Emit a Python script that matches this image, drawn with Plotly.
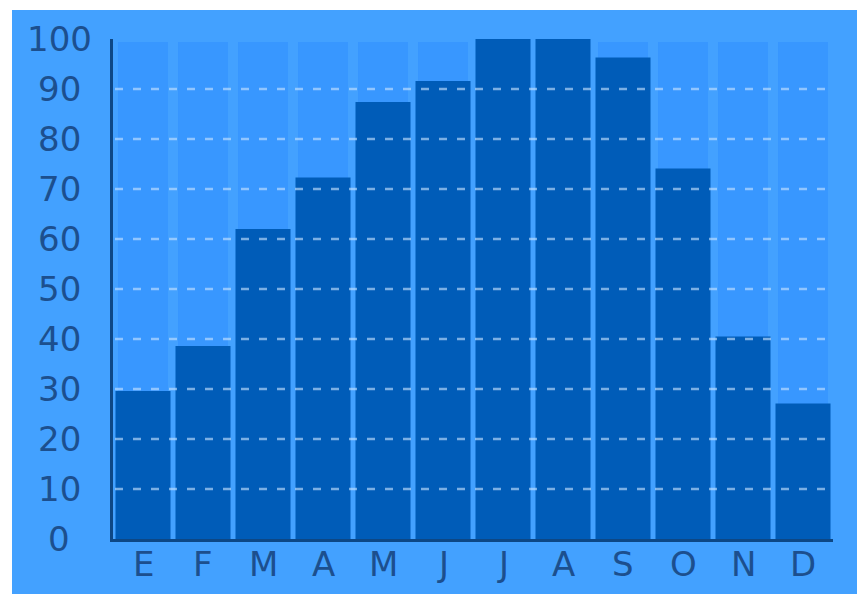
import plotly.graph_objects as go

months = ["E", "F", "M", "A", "M", "J", "J", "A", "S", "O", "N", "D"]
values = [29.6, 38.6, 62, 72.3, 87.4, 91.6, 100, 100, 96.3, 74.1, 40.5, 27.1]
y_ticks = [0, 10, 20, 30, 40, 50, 60, 70, 80, 90, 100]
stripe_top = 99.4

PAPER_BLUE = "#43A1FF"
STRIPE = "#3897FF"
BAR = "#005CB8"
AXIS = "#0D4785"
TEXT = "#1C4F8E"
FONT = "DejaVu Sans, Verdana, sans-serif"

W, H = 857, 594
L, R, T, B = 113, 24, 39, 55
pw = W - L - R
ph = H - T - B

xs = list(range(len(months)))

fig = go.Figure()
fig.add_trace(go.Bar(x=xs, y=[stripe_top] * len(xs), width=0.833,
                     marker=dict(color=STRIPE, line=dict(width=0)),
                     hoverinfo="skip", showlegend=False))
fig.add_trace(go.Bar(x=xs, y=values, width=0.917,
                     marker=dict(color=BAR, line=dict(width=0)),
                     showlegend=False))

shapes = [dict(type="rect", xref="paper", yref="paper",
               x0=(12 - L) / pw, x1=1.3,
               y0=-0.4, y1=(H - B - 10) / ph,
               fillcolor=PAPER_BLUE, line=dict(width=0), layer="below")]
for v in y_ticks[1:-1]:
    shapes.append(dict(type="line", xref="paper", yref="y",
                       x0=2 / pw, x1=(828 - L) / pw, y0=v, y1=v,
                       line=dict(color="rgba(200,228,255,0.62)", width=2.5,
                                 dash="8px,10px"),
                       layer="above"))

annotations = []
for v in y_ticks:
    annotations.append(dict(xref="paper", yref="y", x=(59 - L) / pw, y=v,
                            text=str(v), showarrow=False, xanchor="center",
                            yanchor="middle",
                            font=dict(family=FONT, size=34, color=TEXT)))
for i, m in zip(xs, months):
    annotations.append(dict(xref="x", yref="paper", x=i, y=-(564 - (H - B)) / ph,
                            text=m, showarrow=False, xanchor="center",
                            yanchor="middle",
                            font=dict(family=FONT, size=34, color=TEXT)))

fig.update_layout(
    width=W, height=H,
    margin=dict(l=L, r=R, t=T, b=B, pad=0, autoexpand=False),
    paper_bgcolor="white",
    plot_bgcolor="rgba(0,0,0,0)",
    barmode="overlay",
    shapes=shapes,
    annotations=annotations,
    xaxis=dict(range=[-0.5, 11.5], tickvals=xs, showticklabels=False,
               showgrid=False, zeroline=False, showline=True,
               linecolor=AXIS, linewidth=3, ticks="", automargin=False),
    yaxis=dict(range=[0, 100], showgrid=False, zeroline=False,
               showline=True, linecolor=AXIS, linewidth=3,
               showticklabels=False, ticks="", automargin=False),
)

fig.write_html("out.html")
